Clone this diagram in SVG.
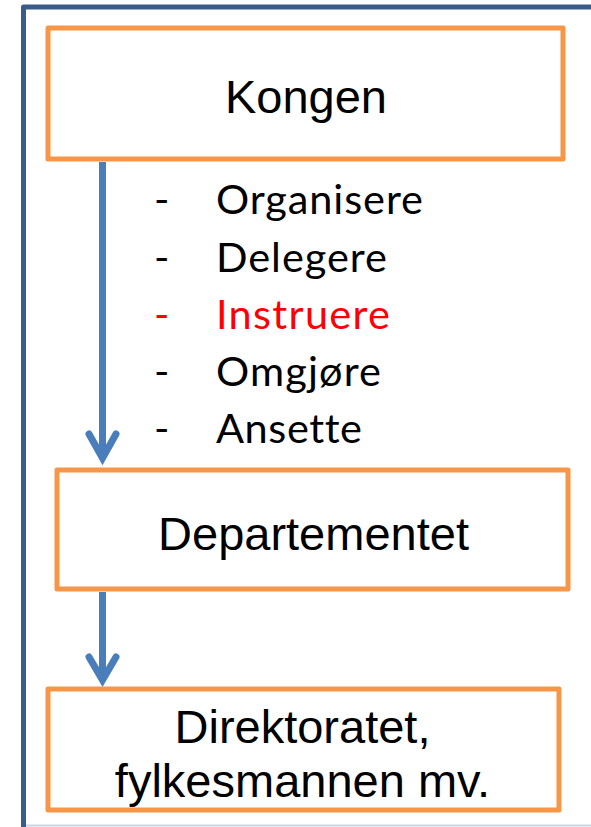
<svg xmlns="http://www.w3.org/2000/svg" width="591" height="827" viewBox="0 0 591 827">
<style>
.box{fill:#FFFFFF;stroke:#F79646;stroke-width:5;stroke-linejoin:round}
.lbl{font-family:"Liberation Sans",Arial,sans-serif;font-size:47px;fill:#000000;text-anchor:middle}
.li{font-family:Lato,"Open Sans",sans-serif;font-size:41.5px;fill:#000000;font-variant-ligatures:none}
.red{fill:#FF0000}
.con{fill:none;stroke:#4A7EBB;stroke-width:7;stroke-linecap:round;stroke-linejoin:miter}
</style>
<rect width="591" height="827" fill="#FFFFFF"/>
<g id="frame">
<path d="M600,7 L23.5,7 L23.5,830" fill="none" stroke="#385D8A" stroke-width="5" stroke-linejoin="round"/>
<line x1="26" y1="825.5" x2="591" y2="825.5" stroke="#C9D5E5" stroke-width="2"/>
</g>
<g id="connectors">
<line class="con" x1="102.5" y1="162" x2="102.5" y2="456" style="stroke-linecap:butt"/>
<polyline class="con" points="89,434 102.5,458 116,434"/>
<line class="con" x1="102.5" y1="592" x2="102.5" y2="678" style="stroke-linecap:butt"/>
<polyline class="con" points="89,657 102.5,680 116,657"/>
</g>
<g id="kongen">
<rect class="box" x="48" y="28" width="515" height="131"/>
<text class="lbl" x="306" y="113">Kongen</text>
</g>
<g id="list">
<text class="li" x="154" y="214">-</text><text class="li" x="216" y="214" textLength="207">Organisere</text>
<text class="li" x="154" y="271.5">-</text><text class="li" x="216" y="271.5" textLength="171">Delegere</text>
<text class="li red" x="154" y="328.5">-</text><text class="li red" x="216" y="328.5" textLength="174">Instruere</text>
<text class="li" x="154" y="385.5">-</text><text class="li" x="216" y="385.5" textLength="165">Omgjøre</text>
<text class="li" x="154" y="442.5">-</text><text class="li" x="216" y="442.5" textLength="146">Ansette</text>
</g>
<g id="departementet">
<rect class="box" x="57" y="470" width="511" height="119"/>
<text class="lbl" x="313.5" y="550">Departementet</text>
</g>
<g id="direktoratet">
<rect class="box" x="48" y="689" width="511" height="121"/>
<text class="lbl" x="302.5" y="743">Direktoratet,</text>
<text class="lbl" x="302.5" y="797">fylkesmannen mv.</text>
</g>
</svg>
